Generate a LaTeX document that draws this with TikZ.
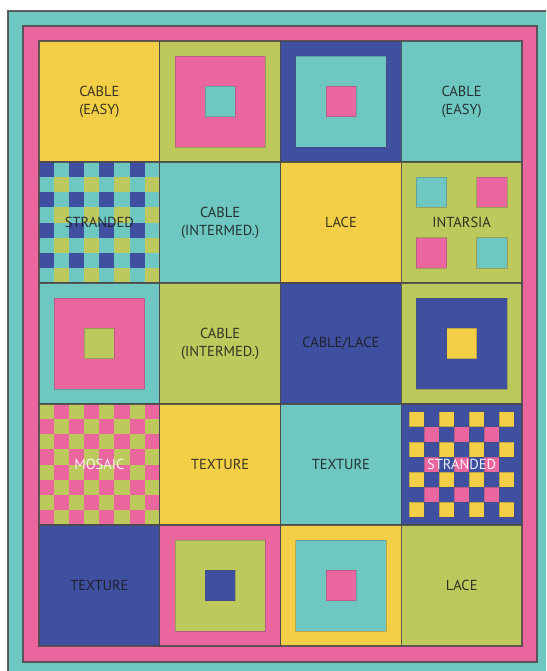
\documentclass[tikz,border=0pt]{standalone}
\usepackage{fontspec}
\setmainfont{PT Sans}
\usepackage{xcolor}
\definecolor{quiltyellow}{HTML}{F3CE47}
\definecolor{quiltpink}{HTML}{E9669F}
\definecolor{quiltteal}{HTML}{6EC7C0}
\definecolor{quiltlime}{HTML}{BDC85D}
\definecolor{quiltnavy}{HTML}{4050A0}
\definecolor{quiltseam}{HTML}{4A4A4A}

\tikzset{
  quiltcell/.style 2 args={shift={(39+120.75*#1,41+121*#2)}, x=15.094pt, y=-15.125pt},
  seam/.style={draw=quiltseam, draw opacity=0.85, line width=1.1pt},
  inset/.style={draw=quiltseam, draw opacity=0.3, line width=0.5pt},
  patch/.style={font=\fontsize{14.5}{18}\selectfont, align=center, text=black!90, text opacity=0.85},
  patchlight/.style={patch, text=white, text opacity=0.9},
}

\newcommand{\bullseye}[5]{%
  \begin{scope}[quiltcell={#1}{#2}]
    \fill[#3] (0,0) rectangle (8,8);
    \filldraw[fill=#4, inset] (1,1) rectangle (7,7);
    \filldraw[fill=#5, inset] (3,3) rectangle (5,5);
    \draw[seam] (0,0) rectangle (8,8);
  \end{scope}}
\newcommand{\plainpatch}[3]{%
  \begin{scope}[quiltcell={#1}{#2}]
    \filldraw[fill=#3, seam] (0,0) rectangle (8,8);
  \end{scope}}

\begin{document}
\begin{tikzpicture}[x=1pt, y=-1pt]
  \useasboundingbox (0,0) rectangle (546,671);
  \clip (0,0) rectangle (546,671);
  \fill[white] (0,0) rectangle (546,671);
  \filldraw[fill=quiltteal, seam] (8,11) rectangle (560,690);
  \filldraw[fill=quiltpink, seam] (23,26) rectangle (537,662);

  % row 1
  \plainpatch{0}{0}{quiltyellow}
  \bullseye{1}{0}{quiltlime}{quiltpink}{quiltteal}
  \bullseye{2}{0}{quiltnavy}{quiltteal}{quiltpink}
  \plainpatch{3}{0}{quiltteal}
  % row 2
  \begin{scope}[quiltcell={0}{1}]
    \fill[quiltteal] (0,0) rectangle (8,8);
    \foreach \i in {0,2,4,6}
      \foreach \j in {0,2,4,6} {
        \fill[quiltnavy] (\i,\j) rectangle ++(1,1);
        \fill[quiltlime] (\i+1,\j+1) rectangle ++(1,1);
      }
    \draw[seam] (0,0) rectangle (8,8);
  \end{scope}
  \plainpatch{1}{1}{quiltteal}
  \plainpatch{2}{1}{quiltyellow}
  \begin{scope}[quiltcell={3}{1}]
    \fill[quiltlime] (0,0) rectangle (8,8);
    \filldraw[fill=quiltteal, inset] (1,1) rectangle (3,3);
    \filldraw[fill=quiltpink, inset] (5,1) rectangle (7,3);
    \filldraw[fill=quiltpink, inset] (1,5) rectangle (3,7);
    \filldraw[fill=quiltteal, inset] (5,5) rectangle (7,7);
    \draw[seam] (0,0) rectangle (8,8);
  \end{scope}
  % row 3
  \bullseye{0}{2}{quiltteal}{quiltpink}{quiltlime}
  \plainpatch{1}{2}{quiltlime}
  \plainpatch{2}{2}{quiltnavy}
  \bullseye{3}{2}{quiltlime}{quiltnavy}{quiltyellow}
  % row 4
  \begin{scope}[quiltcell={0}{3}]
    \fill[quiltlime] (0,0) rectangle (8,8);
    \foreach \i in {0,2,4,6}
      \foreach \j in {1,3,5,7} {
        \fill[quiltpink] (\i,\j) rectangle ++(1,1);
        \fill[quiltpink] (\i+1,\j-1) rectangle ++(1,1);
      }
    \draw[seam] (0,0) rectangle (8,8);
  \end{scope}
  \plainpatch{1}{3}{quiltyellow}
  \plainpatch{2}{3}{quiltteal}
  \begin{scope}[quiltcell={3}{3}]
    \fill[quiltnavy] (0,0) rectangle (8,8);
    \foreach \i in {0.5,2.5,4.5,6.5}
      \foreach \j in {0.5,2.5,4.5,6.5}
        \filldraw[fill=quiltyellow, inset] (\i,\j) rectangle ++(1,1);
    \foreach \i in {1.5,3.5,5.5}
      \foreach \j in {1.5,3.5,5.5}
        \filldraw[fill=quiltpink, inset] (\i,\j) rectangle ++(1,1);
    \draw[seam] (0,0) rectangle (8,8);
  \end{scope}
  % row 5
  \plainpatch{0}{4}{quiltnavy}
  \bullseye{1}{4}{quiltpink}{quiltlime}{quiltnavy}
  \bullseye{2}{4}{quiltyellow}{quiltteal}{quiltpink}
  \plainpatch{3}{4}{quiltlime}

  % labels
  \begin{scope}[quiltcell={0}{0}]
    \node[patch] (cableeasyA) at (4,4) {CABLE\\(EASY)};
  \end{scope}
  \begin{scope}[quiltcell={3}{0}]
    \node[patch] (cableeasyB) at (4,4) {CABLE\\(EASY)};
  \end{scope}
  \begin{scope}[quiltcell={0}{1}]
    \node[patch] (strandedA) at (4,4) {STRANDED};
  \end{scope}
  \begin{scope}[quiltcell={1}{1}]
    \node[patch] (cableinterA) at (4,4) {CABLE\\(INTERMED.)};
  \end{scope}
  \begin{scope}[quiltcell={2}{1}]
    \node[patch] (laceA) at (4,4) {LACE};
  \end{scope}
  \begin{scope}[quiltcell={3}{1}]
    \node[patch] (intarsia) at (4,4) {INTARSIA};
  \end{scope}
  \begin{scope}[quiltcell={1}{2}]
    \node[patch] (cableinterB) at (4,4) {CABLE\\(INTERMED.)};
  \end{scope}
  \begin{scope}[quiltcell={2}{2}]
    \node[patch] (cablelace) at (4,4) {CABLE/LACE};
  \end{scope}
  \begin{scope}[quiltcell={0}{3}]
    \node[patchlight] (mosaic) at (4,4) {MOSAIC};
  \end{scope}
  \begin{scope}[quiltcell={1}{3}]
    \node[patch] (textureA) at (4,4) {TEXTURE};
  \end{scope}
  \begin{scope}[quiltcell={2}{3}]
    \node[patch] (textureB) at (4,4) {TEXTURE};
  \end{scope}
  \begin{scope}[quiltcell={3}{3}]
    \node[patchlight] (strandedB) at (4,4) {STRANDED};
  \end{scope}
  \begin{scope}[quiltcell={0}{4}]
    \node[patch] (textureC) at (4,4) {TEXTURE};
  \end{scope}
  \begin{scope}[quiltcell={3}{4}]
    \node[patch] (laceB) at (4,4) {LACE};
  \end{scope}
\end{tikzpicture}
\end{document}
